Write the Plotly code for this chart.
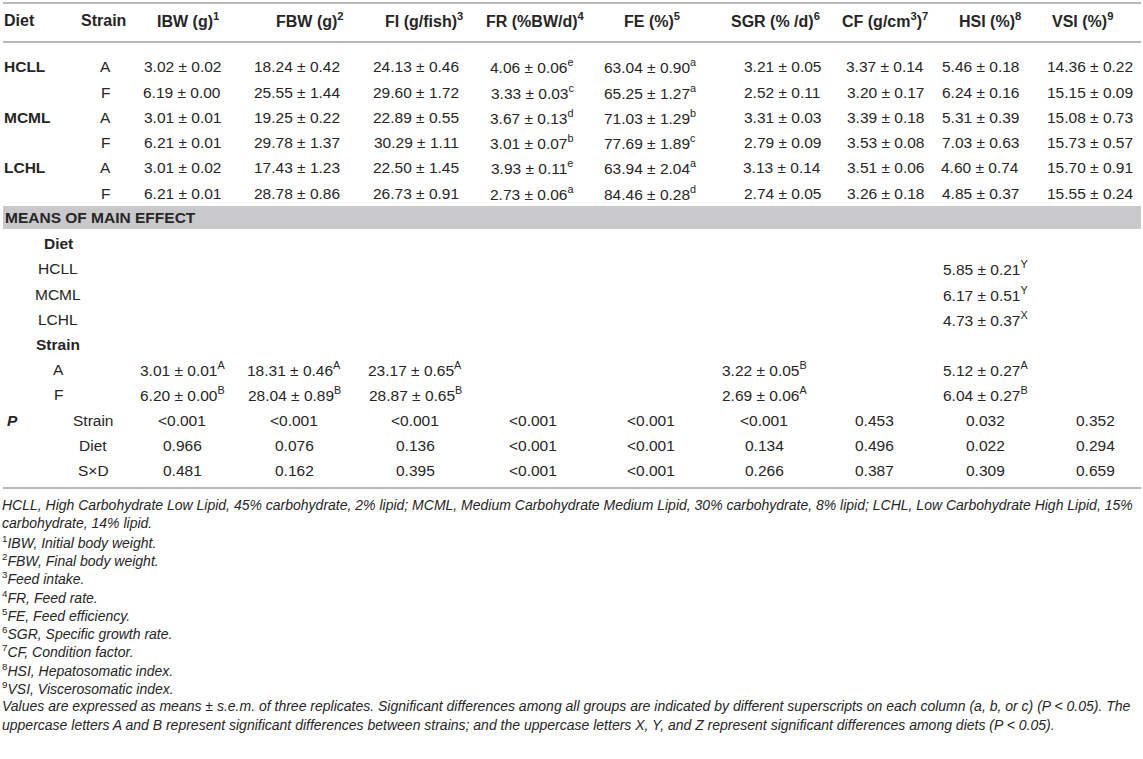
import plotly.graph_objects as go

# ---------------------------------------------------------------------------
# table content
# ---------------------------------------------------------------------------
headers = ["IBW (g)<sup>1</sup>", "FBW (g)<sup>2</sup>", "FI (g/fish)<sup>3</sup>",
           "FR (%BW/d)<sup>4</sup>", "FE (%)<sup>5</sup>", "SGR (% /d)<sup>6</sup>",
           "CF (g/cm<sup>3</sup>)<sup>7</sup>", "HSI (%)<sup>8</sup>", "VSI (%)<sup>9</sup>"]
diets = ["HCLL", "MCML", "LCHL"]
strains = ["A", "F"]

# diet x strain groups, rows in order HCLL-A, HCLL-F, MCML-A, MCML-F, LCHL-A, LCHL-F
ibw_mean = [3.02, 6.19, 3.01, 6.21, 3.01, 6.21]
ibw_sem = [0.02, 0.00, 0.01, 0.01, 0.02, 0.01]
fbw_mean = [18.24, 25.55, 19.25, 29.78, 17.43, 28.78]
fbw_sem = [0.42, 1.44, 0.22, 1.37, 1.23, 0.86]
fi_mean = [24.13, 29.60, 22.89, 30.29, 22.50, 26.73]
fi_sem = [0.46, 1.72, 0.55, 1.11, 1.45, 0.91]
fr_mean = [4.06, 3.33, 3.67, 3.01, 3.93, 2.73]
fr_sem = [0.06, 0.03, 0.13, 0.07, 0.11, 0.06]
fr_sig = ["e", "c", "d", "b", "e", "a"]
fe_mean = [63.04, 65.25, 71.03, 77.69, 63.94, 84.46]
fe_sem = [0.90, 1.27, 1.29, 1.89, 2.04, 0.28]
fe_sig = ["a", "a", "b", "c", "a", "d"]
sgr_mean = [3.21, 2.52, 3.31, 2.79, 3.13, 2.74]
sgr_sem = [0.05, 0.11, 0.03, 0.09, 0.14, 0.05]
cf_mean = [3.37, 3.20, 3.39, 3.53, 3.51, 3.26]
cf_sem = [0.14, 0.17, 0.18, 0.08, 0.06, 0.18]
hsi_mean = [5.46, 6.24, 5.31, 7.03, 4.60, 4.85]
hsi_sem = [0.18, 0.16, 0.39, 0.63, 0.74, 0.37]
vsi_mean = [14.36, 15.15, 15.08, 15.73, 15.70, 15.55]
vsi_sem = [0.22, 0.09, 0.73, 0.57, 0.91, 0.24]

# means of main effect, diet rows HCLL/MCML/LCHL (HSI only)
diet_hsi_mean = [5.85, 6.17, 4.73]
diet_hsi_sem = [0.21, 0.51, 0.37]
diet_hsi_sig = ["Y", "Y", "X"]

# strain rows A/F
strain_cols = [0, 1, 2, 5, 7]   # IBW, FBW, FI, SGR, HSI
strain_mean = [[3.01, 6.20], [18.31, 28.04], [23.17, 28.87], [3.22, 2.69], [5.12, 6.04]]
strain_sem = [[0.01, 0.00], [0.46, 0.89], [0.65, 0.65], [0.05, 0.06], [0.27, 0.27]]
strain_sig = [["A", "B"], ["A", "B"], ["A", "B"], ["B", "A"], ["A", "B"]]

# two-way ANOVA P values
p_effects = ["Strain", "Diet", "S×D"]
p_strain = ["<0.001", "<0.001", "<0.001", "<0.001", "<0.001", "<0.001", "0.453", "0.032", "0.352"]
p_diet = ["0.966", "0.076", "0.136", "<0.001", "<0.001", "0.134", "0.496", "0.022", "0.294"]
p_sxd = ["0.481", "0.162", "0.395", "<0.001", "<0.001", "0.266", "0.387", "0.309", "0.659"]

footnotes = [
    "<i>HCLL, High Carbohydrate Low Lipid, 45% carbohydrate, 2% lipid; MCML, Medium Carbohydrate Medium Lipid, 30% carbohydrate, 8% lipid; LCHL, Low Carbohydrate High Lipid, 15%</i>",
    "<i>carbohydrate, 14% lipid.</i>",
    "<sup>1</sup><i>IBW, Initial body weight.</i>",
    "<sup>2</sup><i>FBW, Final body weight.</i>",
    "<sup>3</sup><i>Feed intake.</i>",
    "<sup>4</sup><i>FR, Feed rate.</i>",
    "<sup>5</sup><i>FE, Feed efficiency.</i>",
    "<sup>6</sup><i>SGR, Specific growth rate.</i>",
    "<sup>7</sup><i>CF, Condition factor.</i>",
    "<sup>8</sup><i>HSI, Hepatosomatic index.</i>",
    "<sup>9</sup><i>VSI, Viscerosomatic index.</i>",
    "<i>Values are expressed as means ± s.e.m. of three replicates. Significant differences among all groups are indicated by different superscripts on each column (a, b, or c) (P &lt; 0.05). The</i>",
    "<i>uppercase letters A and B represent significant differences between strains; and the uppercase letters X, Y, and Z represent significant differences among diets (P &lt; 0.05).</i>",
]

# ---------------------------------------------------------------------------
# layout (pixel coordinates of the 1143 x 759 page)
# ---------------------------------------------------------------------------
W, H = 1143, 759
FONT = "Liberation Sans, Arial, Helvetica, sans-serif"
TXT = "#262626"
SIZE = 15.5
HEAD_SIZE = 16
FOOT_SIZE = 14

x_head = [188, 310, 424, 535, 652, 775, 885, 990, 1082]
x_data = [182, 297, 416, 532, 650, 782, 885, 980, 1090]
x_low = [182, 294, 415, 533, 651, 764, 874, 985, 1095]
x_strain = 105
x_low_label = 58
x_p_label = 93

y_head = 20
y_group = [66, 92, 117, 142, 167, 193]
y_band = (206, 229)
y_diet_title = 243
y_diet = [268, 294, 319]
y_strain_title = 344
y_strain = [369, 394]
y_p = [420, 445, 470]
y_rules = [3, 42, 488]
y_foot0, foot_step = 505, 18.3


def cell(m, s, sig=""):
    t = f"{m:.2f} ± {s:.2f}"
    if sig:
        t += f"<sup>{sig}</sup>"
    return t


def txt(x, y, text, anchor="center", size=SIZE):
    return dict(x=x, y=y, xref="x", yref="y", text=text.replace("<0", "&lt;0"),
                showarrow=False, xanchor=anchor, yanchor="middle",
                font=dict(family=FONT, size=size, color=TXT))


group_cols = [
    (ibw_mean, ibw_sem, None), (fbw_mean, fbw_sem, None), (fi_mean, fi_sem, None),
    (fr_mean, fr_sem, fr_sig), (fe_mean, fe_sem, fe_sig), (sgr_mean, sgr_sem, None),
    (cf_mean, cf_sem, None), (hsi_mean, hsi_sem, None), (vsi_mean, vsi_sem, None),
]

ann = []
# header row
ann.append(txt(2, y_head, "<b>Diet</b>", "left", HEAD_SIZE))
ann.append(txt(x_strain - 2, y_head, "<b>Strain</b>", size=HEAD_SIZE))
for x, h in zip(x_head, headers):
    ann.append(txt(x, y_head, f"<b>{h}</b>", size=HEAD_SIZE))

# group rows
for i, y in enumerate(y_group):
    if i % 2 == 0:
        ann.append(txt(2, y, f"<b>{diets[i // 2]}</b>", "left"))
    ann.append(txt(x_strain, y, strains[i % 2]))
    for x, (m, s, sig) in zip(x_data, group_cols):
        ann.append(txt(x, y, cell(m[i], s[i], sig[i] if sig else "")))

# means of main effect
ann.append(txt(3, sum(y_band) / 2, "<b>MEANS OF MAIN EFFECT</b>", "left"))
ann.append(txt(x_low_label, y_diet_title, "<b>Diet</b>"))
for j, y in enumerate(y_diet):
    ann.append(txt(x_low_label, y, diets[j]))
    ann.append(txt(x_low[7], y, cell(diet_hsi_mean[j], diet_hsi_sem[j], diet_hsi_sig[j])))
ann.append(txt(x_low_label, y_strain_title, "<b>Strain</b>"))
for j, y in enumerate(y_strain):
    ann.append(txt(x_low_label, y, strains[j]))
    for k, c in enumerate(strain_cols):
        ann.append(txt(x_low[c], y, cell(strain_mean[k][j], strain_sem[k][j], strain_sig[k][j])))

# P values
ann.append(txt(5, y_p[0], "<b><i>P</i></b>", "left"))
for lab, y, vals in zip(p_effects, y_p, [p_strain, p_diet, p_sxd]):
    ann.append(txt(x_p_label, y, lab))
    for x, v in zip(x_low, vals):
        ann.append(txt(x, y, v))

# footnotes
for i, f in enumerate(footnotes):
    ann.append(txt(0, y_foot0 + i * foot_step, f, "left", FOOT_SIZE))

shapes = [dict(type="rect", xref="x", yref="y", x0=3, x1=1141, y0=y_band[0], y1=y_band[1],
               fillcolor="#c9c9cb", line=dict(width=0), layer="below")]
for y in y_rules:
    shapes.append(dict(type="line", xref="x", yref="y", x0=3, x1=1141, y0=y, y1=y,
                       line=dict(color="#b8b8b8", width=2)))

fig = go.Figure()
fig.update_layout(
    width=W, height=H,
    margin=dict(l=0, r=0, t=0, b=0),
    paper_bgcolor="white", plot_bgcolor="white",
    xaxis=dict(range=[0, W], visible=False, fixedrange=True),
    yaxis=dict(range=[H, 0], visible=False, fixedrange=True),
    annotations=ann, shapes=shapes, showlegend=False,
)

# the default page has an 8px body margin; drop it so the table sits at (0, 0)
fig.write_html("out.html", config={"displayModeBar": False},
               post_script="document.body.style.margin='0';document.body.style.overflow='hidden';")
